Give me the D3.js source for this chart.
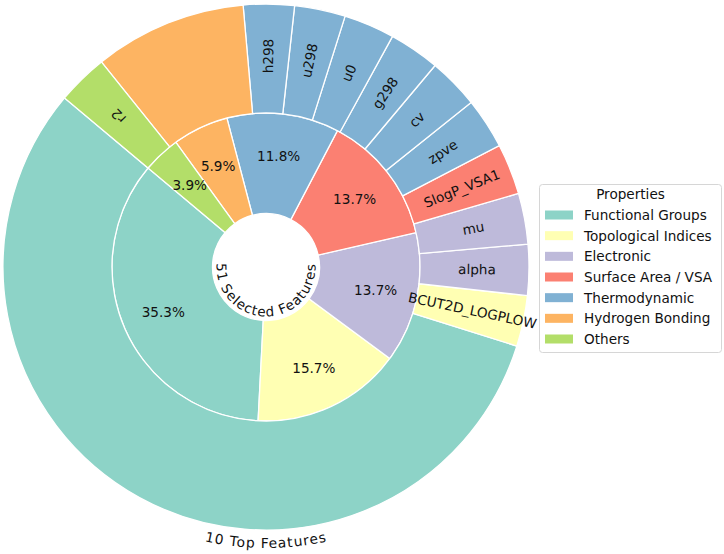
<!DOCTYPE html>
<html>
<head>
<meta charset="utf-8">
<script src="https://cdn.jsdelivr.net/npm/d3@7"></script>
<style>
body { margin: 0; background: #fff; }
text { font-family: "DejaVu Sans", sans-serif; fill: #111; }
</style>
</head>
<body>
<div id="chart"></div>
<script>
const FRAME_WIDTH = 724;
const FRAME_HEIGHT = 554;

const CX = 266, CY = 267;
const R_HOLE = 53.5, R_MID = 154, R_OUT = 263;

// inner ring: property groups of the 51 selected features
const categories = ["Functional Groups", "Topological Indices", "Electronic",
  "Surface Area / VSA", "Thermodynamic", "Hydrogen Bonding", "Others"];
const categoryCounts = [18, 8, 7, 7, 6, 3, 2];
const colors = ["#8dd3c7", "#ffffb3", "#bebada", "#fb8072", "#80b1d3", "#fdb462", "#b3de69"];

// outer ring: top features
const outerLabels = ["", "BCUT2D_LOGPLOW", "alpha", "mu", "SlogP_VSA1", "zpve", "cv",
  "g298", "u0", "u298", "h298", "", "r2"];
const outerValues = [18, 1, 1, 1, 1, 1, 1, 1, 1, 1, 1, 3, 1];
const outerGroup = [0, 1, 2, 2, 3, 4, 4, 4, 4, 4, 4, 5, 6];

const toRad = d => d * Math.PI / 180;
const toDeg = r => r * 180 / Math.PI;

// matplotlib style: start at 140 deg, counterclockwise
const START = toRad(90 - 140);
const pie = d3.pie().sort(null).startAngle(START).endAngle(START - 2 * Math.PI);

const color = d3.scaleOrdinal().domain(d3.range(categories.length)).range(colors);

const svg = d3.select("#chart")
  .append("svg")
  .attr("width", FRAME_WIDTH)
  .attr("height", FRAME_HEIGHT);

const g = svg.append("g").attr("transform", `translate(${CX},${CY})`);

const innerArc = d3.arc().innerRadius(R_HOLE).outerRadius(R_MID);
const outerArc = d3.arc().innerRadius(R_MID).outerRadius(R_OUT);

const innerData = pie(categoryCounts);
const outerData = pie(outerValues);

g.selectAll("path.inner")
  .data(innerData)
  .enter()
  .append("path")
  .attr("class", "inner")
  .attr("d", innerArc)
  .attr("fill", (d, i) => color(i))
  .attr("stroke", "#fff")
  .attr("stroke-width", 1.3);

g.selectAll("path.outer")
  .data(outerData)
  .enter()
  .append("path")
  .attr("class", "outer")
  .attr("d", outerArc)
  .attr("fill", (d, i) => color(outerGroup[i]))
  .attr("stroke", "#fff")
  .attr("stroke-width", 1.3);

const total = d3.sum(categoryCounts);
const mid = d => (d.startAngle + d.endAngle) / 2;

// percentages
g.selectAll("text.pct")
  .data(innerData)
  .enter()
  .append("text")
  .attr("class", "pct")
  .attr("x", d => 112 * Math.sin(mid(d)))
  .attr("y", d => -112 * Math.cos(mid(d)))
  .attr("dy", "0.36em")
  .attr("text-anchor", "middle")
  .style("font-size", "13.6px")
  .text(d => (d.value / total * 100).toFixed(1) + "%");

// outer feature names, rotated along radius
g.selectAll("text.feat")
  .data(outerData)
  .enter()
  .append("text")
  .attr("class", "feat")
  .attr("transform", d => {
    const a = mid(d);
    const x = 211 * Math.sin(a), y = -211 * Math.cos(a);
    return `translate(${x},${y}) rotate(${toDeg(a) - 90})`;
  })
  .attr("dy", "0.36em")
  .attr("text-anchor", "middle")
  .style("font-size", "13.6px")
  .text((d, i) => outerLabels[i]);

// curved captions
const defs = svg.append("defs");
function bottomArc(id, r) {
  const a0 = toRad(150), a1 = toRad(30);
  const x0 = CX + r * Math.cos(a0), y0 = CY - r * Math.sin(a0);
  const x1 = CX + r * Math.cos(a1), y1 = CY - r * Math.sin(a1);
  defs.append("path")
    .attr("id", id)
    .attr("d", `M${x0},${y0} A${r},${r} 0 1 0 ${x1},${y1}`);
}
bottomArc("innerCaption", 49.5);
bottomArc("outerCaption", 281);

svg.append("text")
  .style("font-size", "13.5px")
  .style("letter-spacing", "1px")
  .append("textPath")
  .attr("href", "#innerCaption")
  .attr("startOffset", "50%")
  .attr("text-anchor", "middle")
  .text("51 Selected Features");

svg.append("text")
  .style("font-size", "13.8px")
  .style("letter-spacing", "1px")
  .append("textPath")
  .attr("href", "#outerCaption")
  .attr("startOffset", "50%")
  .attr("text-anchor", "middle")
  .text("10 Top Features");

// legend
const LEG = {x: 539, y: 184, w: 183, h: 168};
const legend = svg.append("g");
legend.append("rect")
  .attr("x", LEG.x + 0.5).attr("y", LEG.y + 0.5)
  .attr("width", LEG.w - 1).attr("height", LEG.h)
  .attr("rx", 3)
  .attr("fill", "#fff")
  .attr("stroke", "#d6d6d6");

legend.append("text")
  .attr("x", LEG.x + LEG.w / 2)
  .attr("y", 199)
  .attr("text-anchor", "middle")
  .style("font-size", "13.6px")
  .text("Properties");

const rowY = d3.scaleLinear().domain([0, categories.length - 1]).range([215, 339]);

const rows = legend.selectAll("g.row")
  .data(categories)
  .enter()
  .append("g")
  .attr("class", "row")
  .attr("transform", (d, i) => `translate(0,${rowY(i)})`);

rows.append("rect")
  .attr("x", 545).attr("y", -4.5)
  .attr("width", 28).attr("height", 9)
  .attr("fill", (d, i) => color(i));

rows.append("text")
  .attr("x", 584)
  .attr("dy", "0.36em")
  .style("font-size", "13.6px")
  .text(d => d);
</script>
</body>
</html>
